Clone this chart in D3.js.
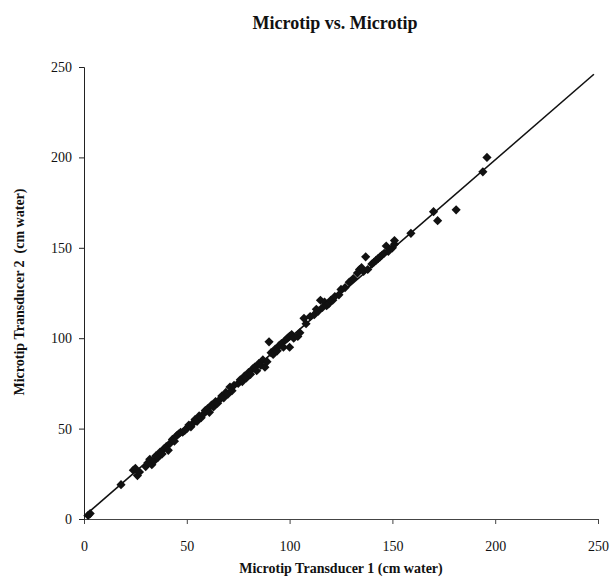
<!DOCTYPE html>
<html>
<head>
<meta charset="utf-8">
<script src="https://cdn.jsdelivr.net/npm/d3@7"></script>
<style>
  body { margin: 0; background: #fff; }
  svg { font-family: "Liberation Serif", "Times New Roman", serif; }
</style>
</head>
<body>
<svg id="chart" width="612" height="580"></svg>
<script>
// readings (cm water): transducer 1 vs transducer 2
const points = [
  [2,2],[3,3],[18,19],[24,27],[25,28],[26,24],[27,26],[30,29],[31,31],[32,33],
  [33,30],[34,32],[35,35],[36,34],[37,37],[38,36],[39,39],[40,40],[41,38],[42,42],
  [43,44],[44,43],[45,46],[46,47],[47,48],[48,48],[49,49],[50,50],[51,52],[52,51],
  [53,53],[54,55],[55,54],[56,57],[57,56],[58,58],[59,60],[60,61],[61,59],[62,63],
  [63,62],[64,65],[65,64],[66,66],[67,68],[68,67],[69,70],[70,69],[71,73],[72,71],
  [73,74],[75,75],[76,77],[77,76],[78,79],[79,78],[80,81],[81,80],[82,83],[83,84],
  [84,82],[85,86],[86,85],[87,88],[88,84],[89,87],[90,98],[91,92],[92,91],[93,94],
  [94,93],[95,96],[96,97],[97,95],[98,99],[99,100],[100,95],[100,101],[101,102],[102,100],
  [104,101],[105,103],[107,111],[108,108],[110,112],[112,113],[113,116],[114,115],[115,121],[116,117],
  [117,120],[118,118],[119,119],[120,121],[121,121],[122,123],[124,124],[125,127],[127,128],[129,131],
  [131,133],[133,136],[134,138],[135,139],[136,137],[137,145],[138,138],[140,141],[141,142],[142,143],
  [143,144],[144,145],[145,146],[146,147],[147,151],[148,148],[150,150],[151,152],[151,154],[159,158],
  [170,170],[172,165],[181,171],[194,192],[196,200]
];
// fitted line endpoints [x, y]
const trend = [[0, 1.5], [248, 246]];
const xTicks = [0, 50, 100, 150, 200, 250];
const yTicks = [0, 50, 100, 150, 200, 250];

const svg = d3.select("#chart");

const x = d3.scaleLinear().domain([0, 250]).range([84, 598]);
const y = d3.scaleLinear().domain([0, 250]).range([519, 67]);

// axes
svg.append("g")
    .attr("transform", "translate(0,519)")
    .call(d3.axisBottom(x).tickValues(xTicks).tickSize(5).tickSizeOuter(5).tickPadding(17))
    .call(g => g.selectAll("text").attr("font-size", 14).attr("fill", "#111"))
    .call(g => g.selectAll("line,path").attr("stroke", "#444"))
    .attr("font-family", null);

svg.append("g")
    .attr("transform", "translate(84,0)")
    .call(d3.axisLeft(y).tickValues(yTicks).tickSize(5).tickSizeOuter(5).tickPadding(7))
    .call(g => g.selectAll("text").attr("font-size", 14).attr("fill", "#111"))
    .call(g => g.selectAll("line,path").attr("stroke", "#222"))
    .attr("font-family", null);

// trend line
svg.append("path")
    .datum(trend)
    .attr("fill", "none")
    .attr("stroke", "#111")
    .attr("stroke-width", 1.6)
    .attr("d", d3.line().x(d => x(d[0])).y(d => y(d[1])));

// diamonds
const diamond = d3.symbol().type(d3.symbolSquare).size(42);
svg.append("g")
    .selectAll("path")
    .data(points)
    .join("path")
    .attr("d", diamond)
    .attr("transform", d => `translate(${x(d[0])},${y(d[1])}) rotate(45)`)
    .attr("fill", "#111");

// titles
svg.append("text")
    .attr("x", 335)
    .attr("y", 29)
    .attr("text-anchor", "middle")
    .attr("font-weight", "bold")
    .attr("font-size", 18)
    .attr("fill", "#111")
    .text("Microtip vs. Microtip");

svg.append("text")
    .attr("x", 341)
    .attr("y", 573)
    .attr("text-anchor", "middle")
    .attr("font-weight", "bold")
    .attr("font-size", 14)
    .attr("fill", "#111")
    .text("Microtip Transducer 1 (cm water)");

svg.append("text")
    .attr("transform", "translate(24,292) rotate(-90)")
    .attr("text-anchor", "middle")
    .attr("font-weight", "bold")
    .attr("font-size", 14)
    .attr("fill", "#111")
    .attr("xml:space", "preserve")
    .style("white-space", "pre")
    .text("Microtip Transducer 2  (cm water)");
</script>
</body>
</html>
